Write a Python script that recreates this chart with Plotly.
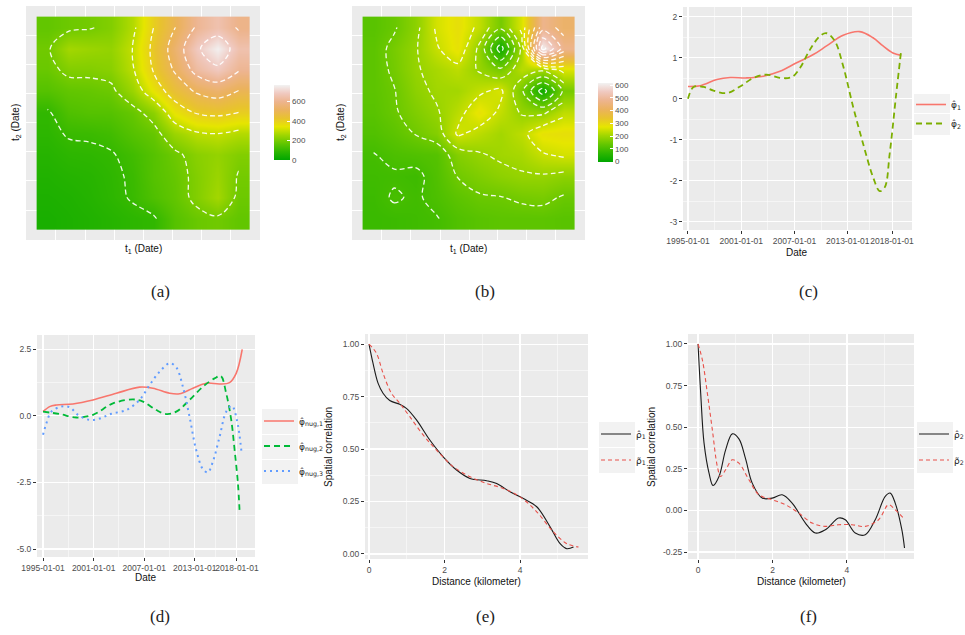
import plotly.graph_objects as go

W, H = 965, 635

# ---------------- data ----------------
grid_centers = [0.05, 0.15, 0.25, 0.35, 0.45, 0.55, 0.65, 0.75, 0.85, 0.95]

# panel (a): estimated covariance surface (rows = t2, cols = t1)
cov_a = [
    [48, 55, 62, 72, 85, 92, 150, 180, 190, 170],
    [55, 60, 70, 85, 105, 140, 170, 215, 262, 185],
    [62, 70, 75, 88, 108, 150, 175, 215, 250, 195],
    [72, 85, 88, 95, 118, 150, 185, 225, 240, 215],
    [85, 105, 108, 118, 150, 175, 250, 290, 300, 280],
    [92, 140, 150, 150, 175, 230, 350, 407, 420, 400],
    [150, 170, 175, 185, 250, 350, 445, 510, 540, 497],
    [180, 215, 215, 225, 290, 407, 510, 630, 683, 608],
    [190, 262, 250, 240, 300, 420, 540, 683, 765, 655],
    [170, 185, 195, 215, 280, 400, 497, 608, 655, 590],
]

# panel (b)
cov_b = [
    [85, 88, 92, 98, 115, 125, 130, 130, 130, 125],
    [88, 104, 95, 110, 130, 145, 148, 158, 162, 145],
    [92, 95, 90, 115, 152, 170, 185, 195, 195, 185],
    [98, 110, 115, 120, 175, 195, 208, 215, 245, 258],
    [115, 130, 152, 175, 258, 232, 210, 235, 285, 290],
    [125, 145, 170, 195, 232, 285, 240, 195, 190, 238],
    [130, 148, 185, 208, 210, 240, 262, 160, 25, 160],
    [130, 158, 195, 215, 235, 195, 160, 230, 210, 265],
    [130, 162, 195, 245, 285, 190, 25, 210, 620, 480],
    [125, 145, 185, 258, 290, 238, 160, 265, 480, 430],
]

heat_ticks_a = [0, 200, 400, 600]
heat_ticks_b = [0, 100, 200, 300, 400, 500, 600]

# panel (c)
c_date_1 = ["1995-01-01", "1996-05-20", "1998-04-05", "1999-10-05", "2001-08-15", "2003-07-01",
            "2005-05-15", "2007-04-01", "2009-02-15", "2010-08-15", "2012-06-28", "2014-05-10",
            "2015-11-10", "2016-12-25", "2018-02-05", "2019-01-15"]
c_phi1 = [0.30, 0.32, 0.47, 0.52, 0.51, 0.55, 0.67, 0.88, 1.08, 1.29, 1.55, 1.64, 1.49, 1.29, 1.12, 1.06]
c_date_2 = ["1995-01-01", "1995-08-20", "1996-10-05", "1997-11-15", "1999-05-20", "2000-11-15",
            "2002-05-20", "2003-11-15", "2005-05-15", "2006-09-10", "2007-08-15", "2008-10-01",
            "2009-11-15", "2010-08-15", "2011-07-20", "2012-06-28", "2013-08-10", "2014-09-25",
            "2015-11-10", "2016-08-10", "2017-03-05", "2017-09-25", "2018-06-25", "2019-01-15"]
c_phi2 = [0.00, 0.29, 0.29, 0.20, 0.14, 0.30, 0.51, 0.59, 0.51, 0.53, 0.75, 1.20,
          1.53, 1.60, 1.41, 0.80, -0.19, -1.09, -1.91, -2.25, -2.16, -1.34, 0.14, 1.20]

# panel (d)
d_date_1 = ["1995-01-01", "1995-10-15", "1996-08-01", "1998-07-20", "2000-12-05", "2003-09-10",
            "2006-06-15", "2008-01-15", "2010-01-10", "2011-03-15", "2012-10-15", "2014-05-15",
            "2015-12-15", "2017-02-15", "2017-12-01", "2018-08-20"]
d_phi1 = [0.16, 0.35, 0.41, 0.45, 0.60, 0.85, 1.08, 1.04, 0.85, 0.83, 1.04, 1.23, 1.20, 1.25, 1.60, 2.50]
d_date_2 = ["1995-01-01", "1996-12-25", "1998-12-15", "2000-12-05", "2003-04-20", "2005-09-01",
            "2006-11-10", "2008-06-10", "2009-08-15", "2010-10-25", "2012-05-20", "2013-12-20",
            "2015-05-10", "2016-02-01", "2016-09-25", "2017-05-01", "2017-09-25", "2018-02-15",
            "2018-04-25"]
d_phi2 = [0.16, 0.07, -0.06, 0.04, 0.47, 0.62, 0.54, 0.22, 0.07, 0.16, 0.60, 1.10,
          1.41, 1.50, 0.85, -0.15, -1.28, -2.53, -3.53]
d_date_3 = ["1995-01-01", "1995-05-25", "1995-12-28", "1997-03-01", "1998-03-01", "1999-02-25",
            "2000-07-10", "2001-09-20", "2003-02-05", "2004-11-15", "2006-06-15", "2007-08-25",
            "2008-10-30", "2010-01-10", "2010-10-25", "2011-08-05", "2012-05-20", "2013-03-05",
            "2013-12-20", "2014-07-25", "2015-03-01", "2015-12-15", "2016-09-25", "2017-05-30",
            "2018-01-01", "2018-07-25"]
d_phi3 = [-0.71, -0.28, 0.16, 0.35, 0.33, 0.04, -0.15, -0.10, 0.08, 0.22, 0.60, 1.16,
          1.66, 1.98, 1.82, 1.10, -0.03, -1.28, -2.00, -2.12, -1.71, -0.78, 0.16, 0.38,
          -0.15, -1.40]

date_ticks = ["1995-01-01", "2001-01-01", "2007-01-01", "2013-01-01", "2018-01-01"]
date_minor = ["1998-01-01", "2004-01-01", "2010-01-01", "2015-07-01"]

# panel (e)
e_dist = [0.0, 0.106, 0.239, 0.372, 0.549, 0.814, 0.991, 1.257, 1.611, 1.965, 2.319, 2.673,
          3.115, 3.381, 3.735, 4.088, 4.442, 4.796, 5.062, 5.239, 5.416]
e_rho_hat = [1.0, 0.909, 0.814, 0.766, 0.731, 0.713, 0.694, 0.639, 0.543, 0.463, 0.400, 0.360,
             0.349, 0.336, 0.296, 0.264, 0.225, 0.129, 0.049, 0.025, 0.033]
e_dist_t = [0.0, 0.195, 0.372, 0.593, 0.814, 1.080, 1.434, 1.788, 2.230, 2.673, 3.115, 3.558,
            4.0, 4.442, 4.885, 5.239, 5.549]
e_rho_tilde = [1.0, 0.957, 0.861, 0.766, 0.718, 0.654, 0.567, 0.495, 0.416, 0.368, 0.336, 0.312,
               0.272, 0.201, 0.105, 0.049, 0.033]

# panel (f)
f_dist = [0, 0.071, 0.161, 0.295, 0.402, 0.563, 0.741, 0.920, 1.098, 1.277, 1.455, 1.723,
          1.991, 2.259, 2.527, 2.884, 3.152, 3.420, 3.777, 3.955, 4.223, 4.491, 4.759, 5.027,
          5.161, 5.295, 5.473, 5.545]
f_rho_hat = [1.0, 0.704, 0.404, 0.224, 0.150, 0.204, 0.364, 0.46, 0.43, 0.31, 0.164, 0.074,
             0.074, 0.094, 0.044, -0.076, -0.136, -0.116, -0.046, -0.056, -0.136, -0.146, -0.056,
             0.084, 0.104, 0.044, -0.116, -0.226]
f_dist_t = [0, 0.116, 0.250, 0.384, 0.518, 0.607, 0.741, 0.920, 1.098, 1.366, 1.634, 1.991,
            2.348, 2.705, 3.063, 3.420, 3.777, 4.134, 4.491, 4.848, 5.116, 5.295, 5.518]
f_rho_tilde = [1.0, 0.904, 0.704, 0.484, 0.264, 0.204, 0.244, 0.304, 0.284, 0.184, 0.094, 0.064,
               0.034, -0.016, -0.076, -0.096, -0.086, -0.086, -0.096, -0.056, 0.034, 0.004, -0.046]

# ---------------- styling helpers ----------------
terrain = [[0 / 9, "#00A600"], [1 / 9, "#2DB600"], [2 / 9, "#63C600"], [3 / 9, "#A0D600"],
           [4 / 9, "#E6E600"], [5 / 9, "#E8C32E"], [6 / 9, "#EBB25E"], [7 / 9, "#EDB48E"],
           [8 / 9, "#F0C9C0"], [1.0, "#F2F2F2"]]

SANS = "Liberation Sans, Arial, sans-serif"
LEGF = "DejaVu Sans, Liberation Sans, sans-serif"
SERIF = "Liberation Serif, DejaVu Serif, serif"


def dom_x(a, b):
    return [a / W, b / W]


def dom_y(top, bottom):
    return [1 - bottom / H, 1 - top / H]


tickfont = dict(family=SANS, size=8.5, color="#4D4D4D")
base_axis = dict(showline=False, zeroline=False, gridcolor="white", gridwidth=1.1,
                 ticks="outside", ticklen=3, tickwidth=1, tickcolor="#333333",
                 tickfont=tickfont, showspikes=False, fixedrange=True, tickangle=0,
                 automargin=False)

heat_grid = [0.091, 0.228, 0.366, 0.503, 0.638, 0.774, 0.909]


def heat_axis(domain, anchor):
    d = dict(base_axis)
    d.update(domain=domain, anchor=anchor, range=[-0.05, 1.05], tickvals=heat_grid,
             showticklabels=False, ticks="", gridwidth=1)
    return d


fig = go.Figure()

# ---- (a)
fig.add_trace(go.Heatmap(
    x=grid_centers, y=grid_centers, z=cov_a, colorscale=terrain, zmin=0, zmax=770,
    zsmooth="best", hoverinfo="skip", xaxis="x", yaxis="y",
    colorbar=dict(x=274 / W, xanchor="left", xpad=0, ypad=0, y=1 - 122.5 / H, yanchor="middle",
                  len=75 / H, lenmode="fraction", thickness=16, outlinewidth=0,
                  tickvals=heat_ticks_a, ticks="inside", ticklen=3, tickcolor="white",
                  tickfont=dict(family=SANS, size=8, color="#4D4D4D"))))
fig.add_trace(go.Contour(
    x=grid_centers, y=grid_centers, z=cov_a, showscale=False, hoverinfo="skip",
    contours=dict(coloring="none", start=100, end=700, size=100),
    line=dict(color="rgba(255,255,255,0.92)", width=1.3, dash="5px,3px", smoothing=1.0),
    xaxis="x", yaxis="y", showlegend=False))

# ---- (b)
fig.add_trace(go.Heatmap(
    x=grid_centers, y=grid_centers, z=cov_b, colorscale=terrain, zmin=0, zmax=620,
    zsmooth="best", hoverinfo="skip", xaxis="x2", yaxis="y2",
    colorbar=dict(x=598 / W, xanchor="left", xpad=0, ypad=0, y=1 - 122 / H, yanchor="middle",
                  len=79 / H, lenmode="fraction", thickness=15, outlinewidth=0,
                  tickvals=heat_ticks_b, ticks="inside", ticklen=3, tickcolor="white",
                  tickfont=dict(family=SANS, size=8, color="#4D4D4D"))))
fig.add_trace(go.Contour(
    x=grid_centers, y=grid_centers, z=cov_b, showscale=False, hoverinfo="skip",
    contours=dict(coloring="none", start=50, end=600, size=50),
    line=dict(color="rgba(255,255,255,0.92)", width=1.3, dash="5px,3px", smoothing=1.0),
    xaxis="x2", yaxis="y2", showlegend=False))

# ---- (c)
fig.add_trace(go.Scatter(x=c_date_1, y=c_phi1, mode="lines", name="φ̂<sub>1</sub>",
                         line=dict(color="#F8766D", width=1.6, shape="spline", smoothing=1.0),
                         xaxis="x3", yaxis="y3", legend="legend", legendgroup="c1"))
fig.add_trace(go.Scatter(x=c_date_2, y=c_phi2, mode="lines", name="φ̂<sub>2</sub>",
                         line=dict(color="#7CAE00", width=1.8, dash="6px,4px", shape="spline",
                                   smoothing=1.0),
                         xaxis="x3", yaxis="y3", legend="legend", legendgroup="c2"))

# ---- (d)
fig.add_trace(go.Scatter(x=d_date_1, y=d_phi1, mode="lines", name="φ̂<sub>nug,1</sub>",
                         line=dict(color="#F8766D", width=1.6, shape="spline", smoothing=1.0),
                         xaxis="x4", yaxis="y4", legend="legend2", legendgroup="d1"))
fig.add_trace(go.Scatter(x=d_date_2, y=d_phi2, mode="lines", name="φ̂<sub>nug,2</sub>",
                         line=dict(color="#00BA38", width=1.8, dash="6px,4px", shape="spline",
                                   smoothing=1.0),
                         xaxis="x4", yaxis="y4", legend="legend2", legendgroup="d2"))
fig.add_trace(go.Scatter(x=d_date_3, y=d_phi3, mode="lines", name="φ̂<sub>nug,3</sub>",
                         line=dict(color="#619CFF", width=2, dash="2px,4px", shape="spline",
                                   smoothing=1.0),
                         xaxis="x4", yaxis="y4", legend="legend2", legendgroup="d3"))

# ---- (e)
fig.add_trace(go.Scatter(x=e_dist, y=e_rho_hat, mode="lines", name="ρ̂<sub>1</sub>",
                         line=dict(color="#1a1a1a", width=1.1, shape="spline", smoothing=1.0),
                         xaxis="x5", yaxis="y5", legend="legend3", legendgroup="e1"))
fig.add_trace(go.Scatter(x=e_dist_t, y=e_rho_tilde, mode="lines", name="ρ̃<sub>1</sub>",
                         line=dict(color="#E8514A", width=1.1, dash="4px,3px", shape="spline",
                                   smoothing=1.0),
                         xaxis="x5", yaxis="y5", legend="legend3", legendgroup="e2"))

# ---- (f)
fig.add_trace(go.Scatter(x=f_dist, y=f_rho_hat, mode="lines", name="ρ̂<sub>2</sub>",
                         line=dict(color="#1a1a1a", width=1.1, shape="spline", smoothing=1.0),
                         xaxis="x6", yaxis="y6", legend="legend4", legendgroup="f1"))
fig.add_trace(go.Scatter(x=f_dist_t, y=f_rho_tilde, mode="lines", name="ρ̃<sub>2</sub>",
                         line=dict(color="#E8514A", width=1.1, dash="4px,3px", shape="spline",
                                   smoothing=1.0),
                         xaxis="x6", yaxis="y6", legend="legend4", legendgroup="f2"))

# ---------------- axes ----------------
lay = {}
lay["xaxis"] = heat_axis(dom_x(26, 260), "y")
lay["yaxis"] = heat_axis(dom_y(6, 240), "x")
lay["xaxis2"] = heat_axis(dom_x(352, 585), "y2")
lay["yaxis2"] = heat_axis(dom_y(6, 240), "x2")

minor_grid = dict(showgrid=True, gridcolor="white", gridwidth=0.5, ticks="")

ax = dict(base_axis)
ax.update(domain=dom_x(683, 912), anchor="y3", type="date", range=["1994-06-10", "2020-04-01"],
          tickvals=date_ticks, ticktext=date_ticks,
          minor=dict(tickvals=date_minor, **minor_grid))
lay["xaxis3"] = ax
ay = dict(base_axis)
ay.update(domain=dom_y(7, 230), anchor="x3", range=[-3.2, 2.24],
          tickvals=[-3, -2, -1, 0, 1, 2], ticktext=["-3", "-2", "-1", "0", "1", "2"],
          minor=dict(tickvals=[-2.5, -1.5, -0.5, 0.5, 1.5], **minor_grid))
lay["yaxis3"] = ay

ax = dict(base_axis)
ax.update(domain=dom_x(37, 255), anchor="y4", type="date", range=["1994-04-15", "2020-02-25"],
          tickvals=date_ticks, ticktext=date_ticks,
          minor=dict(tickvals=date_minor, **minor_grid))
lay["xaxis4"] = ax
ay = dict(base_axis)
ay.update(domain=dom_y(335, 557), anchor="x4", range=[-5.3, 3.04],
          tickvals=[-5, -2.5, 0, 2.5], ticktext=["-5.0", "-2.5", "0.0", "2.5"],
          minor=dict(tickvals=[-3.75, -1.25, 1.25], **minor_grid))
lay["yaxis4"] = ay

ax = dict(base_axis)
ax.update(domain=dom_x(365, 588), anchor="y5", range=[-0.106, 5.8],
          tickvals=[0, 2, 4], ticktext=["0", "2", "4"],
          minor=dict(tickvals=[1, 3, 5], **minor_grid))
lay["xaxis5"] = ax
ay = dict(base_axis)
ay.update(domain=dom_y(334, 559), anchor="x5", range=[-0.024, 1.048],
          tickvals=[0, 0.25, 0.5, 0.75, 1.0], ticktext=["0.00", "0.25", "0.50", "0.75", "1.00"],
          minor=dict(tickvals=[0.125, 0.375, 0.625, 0.875], **minor_grid))
lay["yaxis5"] = ay

ax = dict(base_axis)
ax.update(domain=dom_x(688, 914), anchor="y6", range=[-0.27, 5.8],
          tickvals=[0, 2, 4], ticktext=["0", "2", "4"],
          minor=dict(tickvals=[1, 3, 5], **minor_grid))
lay["xaxis6"] = ax
ay = dict(base_axis)
ay.update(domain=dom_y(334, 559), anchor="x6", range=[-0.292, 1.06],
          tickvals=[-0.25, 0, 0.25, 0.5, 0.75, 1.0],
          ticktext=["-0.25", "0.00", "0.25", "0.50", "0.75", "1.00"],
          minor=dict(tickvals=[-0.125, 0.125, 0.375, 0.625, 0.875], **minor_grid))
lay["yaxis6"] = ay

# ---------------- legends ----------------
leg_common = dict(bgcolor="rgba(0,0,0,0)", borderwidth=0,
                  font=dict(family=LEGF, size=9, color="#222"),
                  itemwidth=30, yanchor="middle", xanchor="left", orientation="v",
                  itemclick=False, itemdoubleclick=False)
lay["legend"] = dict(leg_common, x=911 / W, y=1 - 114 / H, tracegroupgap=0)
lay["legend2"] = dict(leg_common, x=259 / W, y=1 - 446 / H, tracegroupgap=6)
lay["legend3"] = dict(leg_common, x=596 / W, y=1 - 447 / H, tracegroupgap=7)
lay["legend4"] = dict(leg_common, x=914 / W, y=1 - 447 / H, tracegroupgap=7)

# gray legend-key backgrounds (ggplot style)
shapes = []


def key_box(x0, x1, y0, y1):
    shapes.append(dict(type="rect", xref="paper", yref="paper", x0=x0 / W, x1=x1 / W,
                       y0=1 - y1 / H, y1=1 - y0 / H, fillcolor="#F2F2F2",
                       line=dict(width=0), layer="below"))


for (y0, y1) in [(94, 113), (114, 135)]:
    key_box(914, 950, y0, y1)
for (y0, y1) in [(409, 434), (435, 459), (460, 484)]:
    key_box(262, 298, y0, y1)
for (y0, y1) in [(422, 447), (448, 473)]:
    key_box(599, 635, y0, y1)
    key_box(917, 953, y0, y1)

# ---------------- annotations ----------------
ann = []


def text_px(txt, xp, yp, size=10, angle=0, family=SANS, color="#111"):
    ann.append(dict(text=txt, x=xp / W, y=1 - yp / H, xref="paper", yref="paper",
                    showarrow=False, textangle=angle, xanchor="center", yanchor="middle",
                    font=dict(family=family, size=size, color=color)))


text_px("t<sub>1</sub> (Date)", 143, 249)
text_px("t<sub>2</sub> (Date)", 16, 123, angle=-90)
text_px("t<sub>1</sub> (Date)", 468, 249)
text_px("t<sub>2</sub> (Date)", 341, 123, angle=-90)
text_px("Date", 797, 252)
text_px("Date", 146, 577)
text_px("Distance (kilometer)", 476, 581)
text_px("Spatial correlation", 329, 447, angle=-90)
text_px("Distance (kilometer)", 801, 581)
text_px("Spatial correlation", 652, 447, angle=-90)

for lab, xp, yp in [("(a)", 160, 292), ("(b)", 485, 292), ("(c)", 808, 292),
                    ("(d)", 160, 616), ("(e)", 485, 616), ("(f)", 808, 616)]:
    text_px(lab, xp, yp, size=17, family=SERIF, color="#222")

fig.update_layout(
    width=W, height=H, autosize=False,
    margin=dict(l=0, r=0, t=0, b=0, autoexpand=False),
    paper_bgcolor="white", plot_bgcolor="#EBEBEB",
    hovermode=False, showlegend=True,
    annotations=ann, shapes=shapes,
    **lay,
)

fig.write_html("out.html", config=dict(displayModeBar=False, staticPlot=True),
               post_script="document.body.style.margin='0px';document.body.style.padding='0px';")
